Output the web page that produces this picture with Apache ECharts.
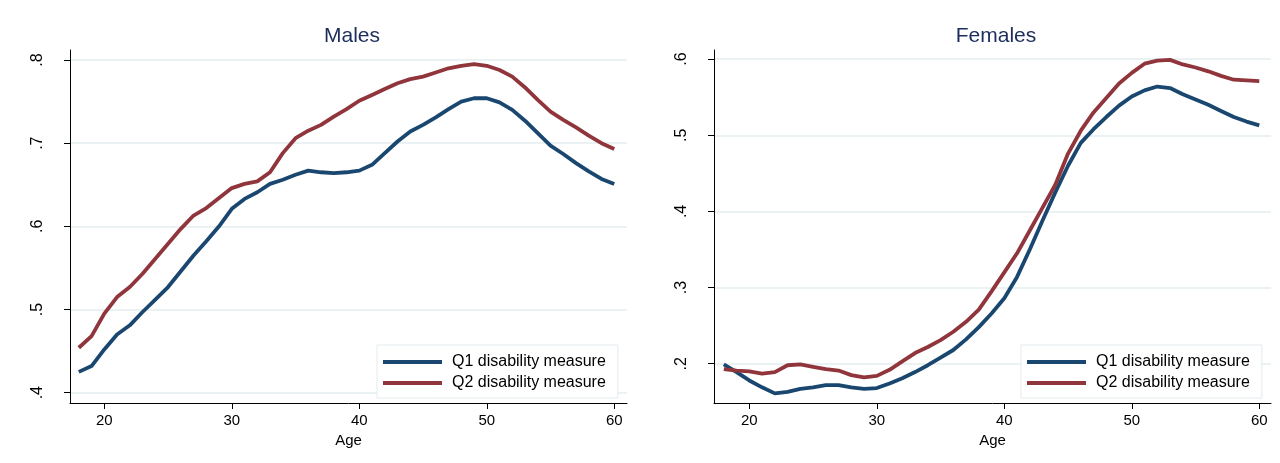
<!DOCTYPE html>
<html><head><meta charset="utf-8">
<script src="https://cdn.jsdelivr.net/npm/echarts@6/dist/echarts.min.js"></script>
<style>html,body{margin:0;padding:0;background:#fff}#c{width:1280px;height:463px}</style>
</head><body><div id="c"></div>
<script>
const ages = [18,19,20,21,22,23,24,25,26,27,28,29,30,31,32,33,34,35,36,37,38,39,40,41,42,43,44,45,46,47,48,49,50,51,52,53,54,55,56,57,58,59,60];
const malesQ1 = [0.425,0.432,0.452,0.470,0.481,0.497,0.512,0.527,0.546,0.565,0.582,0.600,0.621,0.633,0.641,0.651,0.656,0.662,0.667,0.665,0.664,0.665,0.667,0.674,0.688,0.702,0.714,0.722,0.731,0.741,0.750,0.754,0.754,0.749,0.740,0.727,0.712,0.697,0.687,0.676,0.666,0.657,0.651];
const malesQ2 = [0.454,0.468,0.495,0.515,0.527,0.543,0.561,0.579,0.597,0.613,0.622,0.634,0.646,0.651,0.654,0.665,0.688,0.706,0.715,0.722,0.732,0.741,0.751,0.758,0.765,0.772,0.777,0.780,0.785,0.790,0.793,0.795,0.793,0.788,0.780,0.767,0.752,0.738,0.728,0.719,0.709,0.700,0.693];
const femalesQ1 = [0.199,0.189,0.178,0.169,0.161,0.163,0.167,0.169,0.172,0.172,0.169,0.167,0.168,0.174,0.181,0.189,0.198,0.208,0.218,0.232,0.248,0.266,0.286,0.314,0.350,0.388,0.425,0.460,0.490,0.508,0.524,0.539,0.551,0.559,0.564,0.562,0.554,0.547,0.540,0.532,0.524,0.518,0.513];
const femalesQ2 = [0.193,0.191,0.190,0.187,0.189,0.198,0.199,0.196,0.193,0.191,0.185,0.182,0.184,0.192,0.203,0.214,0.222,0.231,0.242,0.255,0.271,0.295,0.320,0.345,0.375,0.405,0.435,0.476,0.506,0.530,0.549,0.568,0.582,0.594,0.598,0.599,0.593,0.589,0.584,0.578,0.573,0.572,0.571];
const xTicks = [20,30,40,50,60];
const maleYTicks = [0.4,0.5,0.6,0.7,0.8];
const maleYLabels = ['.4','.5','.6','.7','.8'];
const femaleYTicks = [0.2,0.3,0.4,0.5,0.6];
const femaleYLabels = ['.2','.3','.4','.5','.6'];
const seriesNames = ['Q1 disability measure','Q2 disability measure'];
const panelTitles = ['Males','Females'];
const xName = 'Age';

const FONT = 'Liberation Sans, Arial, sans-serif';
const NAVY = '#1a476f', MAROON = '#90353b';
const pairs = (ys) => ages.map((a,i)=>[a, ys[i]]);

function xAxis(gi, min, max){
  return {type:'value', gridIndex:gi, min:min, max:max,
    name:xName, nameLocation:'middle', nameGap:27,
    nameTextStyle:{fontFamily:FONT, fontSize:15, color:'#000'},
    axisLine:{show:true, onZero:false, lineStyle:{color:'#000', width:1}},
    axisTick:{show:true, length:6, customValues:xTicks, lineStyle:{color:'#000'}},
    axisLabel:{customValues:xTicks, margin:10, fontFamily:FONT, fontSize:15, color:'#000'},
    splitLine:{show:false}};
}
function yAxis(gi, min, max, ticks, labels){
  return {type:'value', gridIndex:gi, min:min, max:max,
    axisLine:{show:true, onZero:false, lineStyle:{color:'#000', width:1}},
    axisTick:{show:true, length:6, customValues:ticks, lineStyle:{color:'#000'}},
    axisLabel:{customValues:ticks, rotate:90, margin:24, fontFamily:FONT, fontSize:16, color:'#000',
      formatter:(v)=>{const i=ticks.findIndex(t=>Math.abs(t-v)<1e-9); return i>=0?labels[i]:'';}},
    splitLine:{show:true, lineStyle:{color:'#e5eef0', width:1.5}}};
}
function legend(gi, left){
  return {show:true, data:seriesNames, orient:'vertical', left:left, top:345,
    icon:'rect', itemWidth:59, itemHeight:4, itemGap:5,
    padding:[9,12,7,6], borderColor:'#e3ebee', borderWidth:1, backgroundColor:'#fff',
    textStyle:{fontFamily:FONT, fontSize:16, color:'#000', lineHeight:16, padding:[0,0,0,5]}};
}
function line(name, gi, ys, color){
  return {type:'line', name:name, xAxisIndex:gi, yAxisIndex:gi, data:pairs(ys),
    symbol:'none', smooth:false, lineStyle:{color:color, width:3.8}, itemStyle:{color:color},
    emphasis:{disabled:true}, z:3};
}
const chart = echarts.init(document.getElementById('c'), null, {renderer:'canvas'});
chart.setOption({
  backgroundColor:'#fff',
  animation:false,
  title:[
    {text:panelTitles[0], left:347, top:21, textAlign:'center', textStyle:{fontFamily:FONT, fontSize:21, fontWeight:'normal', color:'#1c2d5c'}},
    {text:panelTitles[1], left:991, top:21, textAlign:'center', textStyle:{fontFamily:FONT, fontSize:21, fontWeight:'normal', color:'#1c2d5c'}}
  ],
  grid:[
    {left:70, top:50, width:557, height:353, containLabel:false},
    {left:714, top:50, width:557, height:353, containLabel:false}
  ],
  xAxis:[xAxis(0, 17.31, 61.0), xAxis(1, 17.23, 60.92)],
  yAxis:[yAxis(0, 0.3876, 0.812, maleYTicks, maleYLabels), yAxis(1, 0.1484, 0.612, femaleYTicks, femaleYLabels)],
  legend:[legend(0, 377), legend(1, 1021)],
  series:[
    line(seriesNames[0],0,malesQ1,NAVY), line(seriesNames[1],0,malesQ2,MAROON),
    line(seriesNames[0],1,femalesQ1,NAVY), line(seriesNames[1],1,femalesQ2,MAROON)
  ]
});
</script></body></html>
